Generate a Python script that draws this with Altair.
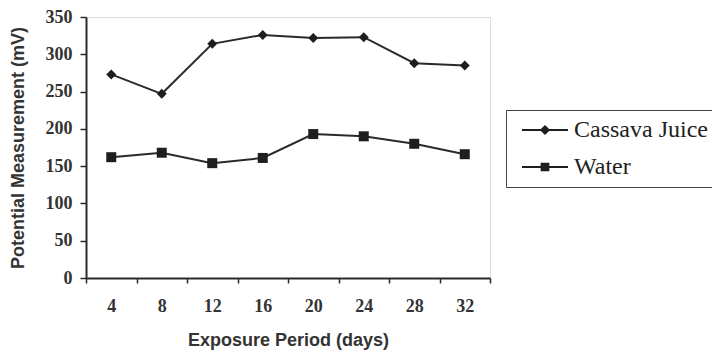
import altair as alt
import pandas as pd

days = ["4", "8", "12", "16", "20", "24", "28", "32"]
series = ["Cassava Juice", "Water"]
cassava = [273, 247, 314, 326, 322, 323, 288, 285]
water = [162, 168, 154, 161, 193, 190, 180, 166]

rows = []
for d, c, w in zip(days, cassava, water):
    rows.append({"day": d, "series": series[0], "value": c})
    rows.append({"day": d, "series": series[1], "value": w})
df = pd.DataFrame(rows)

INK = "#2a2a2a"
SERIF = "Liberation Serif"
SANS = "Liberation Sans"

x = alt.X(
    "day:O", sort=days,
    scale=alt.Scale(type="band", paddingInner=0, paddingOuter=0),
    axis=alt.Axis(
        title="Exposure Period (days)", labelAngle=0, tickBand="extent",
        labelFont=SERIF, labelFontSize=18, labelFontWeight="bold", labelColor="#333",
        labelPadding=14, tickSize=5, tickColor=INK, domainColor=INK, domainWidth=2,
        tickWidth=1.5, titleFont=SANS, titleFontSize=18, titleFontWeight="bold",
        titleColor="#333", titlePadding=16, grid=False,
    ),
)
y = alt.Y(
    "value:Q",
    scale=alt.Scale(domain=[0, 350], nice=False),
    axis=alt.Axis(
        title="Potential Measurement (mV)", values=list(range(0, 351, 50)),
        labelFont=SERIF, labelFontSize=18, labelFontWeight="bold", labelColor="#333",
        labelPadding=8, tickSize=6, tickColor=INK, domainColor=INK, domainWidth=2,
        tickWidth=1.5, titleFont=SANS, titleFontSize=18, titleFontWeight="bold",
        titleColor="#333", titlePadding=18, grid=False,
    ),
)

base = alt.Chart(df).encode(x=x, y=y)

lines = base.mark_line(color=INK, strokeWidth=2).encode(detail="series:N")

points = base.mark_point(filled=True, color="#1e1e1e", opacity=1, size=100).encode(
    shape=alt.Shape("series:N", scale=alt.Scale(domain=series, range=["diamond", "square"]), legend=None)
)

leg_paths = [
    "M-1,-0.04H1V0.04H-1ZM0,-0.22L0.22,0L0,0.22L-0.22,0Z",
    "M-1,-0.04H1V0.04H-1ZM-0.19,-0.19H0.19V0.19H-0.19Z",
]
legend_layer = base.mark_point(
    filled=True, color="#1e1e1e", opacity=1
).encode(
    shape=alt.Shape(
        "series:N",
        scale=alt.Scale(domain=series, range=leg_paths),
        legend=alt.Legend(
            title=None, orient="none", legendX=420, legendY=93,
            symbolSize=2116, symbolFillColor="#1e1e1e", symbolStrokeWidth=0,
            symbolOpacity=1, symbolOffset=11,
            clipHeight=30, rowPadding=7,
            labelFont=SERIF, labelFontSize=24, labelColor="#222", labelOffset=6,
            labelLimit=400, strokeColor="#444", padding=5,
        ),
    )
).transform_filter("false")

chart = alt.layer(lines, points, legend_layer).resolve_scale(shape="independent").properties(
    width=404, height=261,
    autosize=alt.AutoSizeParams(type="none"),
    padding={"left": 78, "top": 9, "right": 222, "bottom": 80},
).configure_view(stroke=None).configure(background="white")

chart.save("out.html", embed_options={"renderer": "svg", "actions": False})
